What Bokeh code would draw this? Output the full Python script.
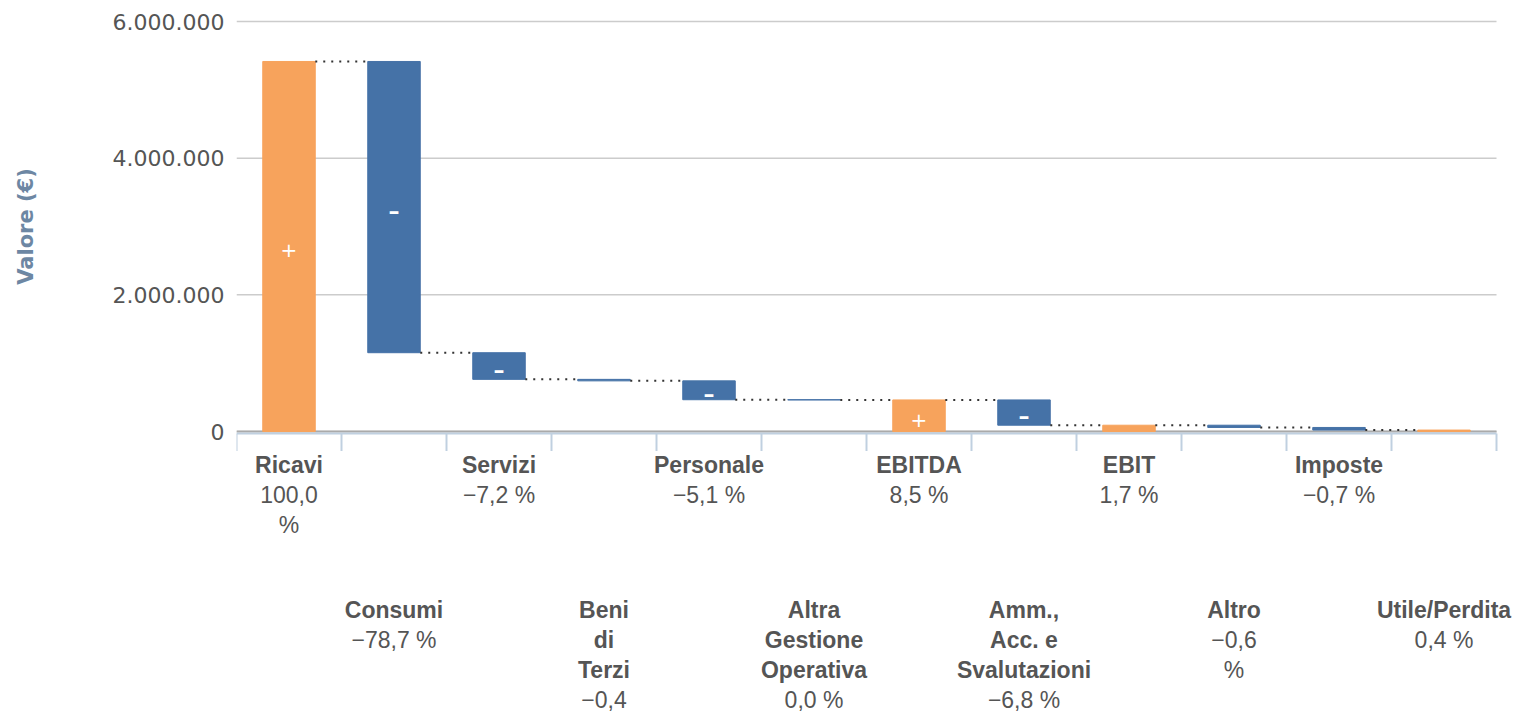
from bokeh.plotting import figure
from bokeh.layouts import column
from bokeh.models import ColumnDataSource, Range1d, FixedTicker
from bokeh.core.properties import value
from bokeh.embed import file_html
from bokeh.resources import INLINE

# ---------------- data ----------------
categories = ["Ricavi", "Consumi", "Servizi", "Beni di Terzi", "Personale",
              "Altra Gestione Operativa", "EBITDA", "Amm., Acc. e Svalutazioni",
              "EBIT", "Altro", "Imposte", "Utile/Perdita"]
# wrapped label lines as shown under the axis
category_lines = [["Ricavi"], ["Consumi"], ["Servizi"], ["Beni", "di", "Terzi"],
                  ["Personale"], ["Altra", "Gestione", "Operativa"], ["EBITDA"],
                  ["Amm.,", "Acc. e", "Svalutazioni"], ["EBIT"], ["Altro"],
                  ["Imposte"], ["Utile/Perdita"]]
percent_lines = [["100,0", "%"], ["\u221278,7 %"], ["\u22127,2 %"], ["\u22120,4"],
                 ["\u22125,1 %"], ["0,0 %"], ["8,5 %"], ["\u22126,8 %"], ["1,7 %"],
                 ["\u22120,6", "%"], ["\u22120,7 %"], ["0,4 %"]]
# deltas (EUR); subtotal bars flagged by is_sum
deltas = [5415000, -4262000, -390000, -22000, -276000, -3000, 0,
          -370000, 0, -33000, -38000, 0]
is_sum = [False, False, False, False, False, False, True,
          False, True, False, False, True]
y_ticks = [0, 2000000, 4000000, 6000000]
y_max = 6000000

ORANGE = "#f7a35c"
BLUE = "#4572a7"
TEXT = "#555555"
AXIS = "#c0d0e0"

# ---------------- waterfall computation ----------------
n = len(categories)
running = 0
bottoms, tops, colors, levels, pos = [], [], [], [], []
for d, s in zip(deltas, is_sum):
    if s:
        b, t = 0, running
        positive = True
    else:
        b = running
        running += d
        t = running
        positive = d > 0
    bottoms.append(min(b, t))
    tops.append(max(b, t))
    colors.append(ORANGE if positive else BLUE)
    pos.append(positive)
    levels.append(running)

xs = [i + 0.5 for i in range(n)]
bars = ColumnDataSource(dict(x=xs, bottom=bottoms, top=tops, color=colors))

# ---------------- layout constants (pixels) ----------------
W = 1522
LEFT = 236
TOP = 1
PLOT_PX = 410          # pixels from 0 to y_max
PAD_PX = 20            # room below zero (axis line, ticks) and same above y_max
H2 = 261
CAT_PX = 105           # pixels per category
k = y_max / PLOT_PX    # data units per pixel
x_end = (W - LEFT) / CAT_PX

xr = Range1d(0, x_end)
p = figure(width=W, height=TOP + PLOT_PX + 2 * PAD_PX, x_range=xr,
           y_range=Range1d(-PAD_PX * k, y_max + PAD_PX * k), x_axis_location=None,
           output_backend="svg", toolbar_location=None,
           min_border_left=LEFT, min_border_right=0, min_border_top=TOP,
           min_border_bottom=0)
p.outline_line_color = None
p.background_fill_color = "white"
p.border_fill_color = "white"
p.grid.visible = False

# horizontal grid lines limited to the category span
p.segment(x0=[0] * len(y_ticks), y0=y_ticks, x1=[n] * len(y_ticks), y1=y_ticks,
          line_color="#cccccc", line_width=1.5)
# zero line, axis line and ticks at category boundaries
p.segment(x0=[0], y0=[0], x1=[n], y1=[0], line_color="#aaaaaa", line_width=2)
p.segment(x0=[0], y0=[-2 * k], x1=[n], y1=[-2 * k], line_color=AXIS, line_width=2)
bounds = list(range(n + 1))
p.segment(x0=bounds, y0=[-2 * k] * len(bounds), x1=bounds,
          y1=[-PAD_PX * k] * len(bounds), line_color=AXIS, line_width=2)

p.vbar(x="x", bottom="bottom", top="top", width=0.5, source=bars,
       fill_color="color", line_color="color", line_width=1)

# connectors
cx0 = [i + 0.75 for i in range(n - 1)]
cx1 = [i + 1.25 for i in range(n - 1)]
cy = levels[:-1]
p.segment(x0=cx0, y0=cy, x1=cx1, y1=cy, line_color="#333333", line_width=2,
          line_dash="2 6")

# signs inside the larger bars
px_, py_, mx_, my_ = [], [], [], []
for i in range(n):
    if tops[i] - bottoms[i] > 250000:
        c = (tops[i] + bottoms[i]) / 2
        if pos[i]:
            px_.append(xs[i]); py_.append(c)
        else:
            mx_.append(xs[i]); my_.append(c)
p.text(x=px_, y=py_, text=["+"] * len(px_), text_color="white",
       text_font=value("DejaVu Sans"), text_font_size="20px",
       text_align="center", text_baseline="middle", y_offset=4)
p.text(x=mx_, y=my_, text=["\u2013"] * len(mx_), text_color="white",
       text_font=value("DejaVu Sans"), text_font_style="bold", text_font_size="22px",
       text_align="center", text_baseline="middle", y_offset=4)

ya = p.yaxis[0]
ya.ticker = FixedTicker(ticks=y_ticks)
ya.axis_line_color = None
ya.major_tick_line_color = None
ya.minor_tick_line_color = None
ya.major_label_overrides = {t: ("{:,}".format(t).replace(",", ".")) for t in y_ticks}
ya.major_label_text_font = "DejaVu Sans"
ya.major_label_text_font_size = "22px"
ya.major_label_text_color = TEXT
ya.major_label_standoff = 6
ya.axis_label = "Valore (\u20ac)"
ya.axis_label_text_font = "DejaVu Sans"
ya.axis_label_text_font_style = "bold"
ya.axis_label_text_font_size = "21px"
ya.axis_label_text_color = "#6d87a3"
ya.axis_label_standoff = 72

# ---------------- category label panel ----------------
q = figure(width=W, height=H2, x_range=xr, y_range=Range1d(H2, 0),
           output_backend="svg", toolbar_location=None,
           min_border_left=LEFT, min_border_right=0, min_border_top=0,
           min_border_bottom=0)
q.axis.visible = False
q.grid.visible = False
q.outline_line_color = None
q.border_fill_color = "white"
q.background_fill_color = "white"

ROW1, ROW2, LINE = 13, 158, 30
bx, by, bt = [], [], []
nx, ny, nt = [], [], []
for i in range(n):
    base = ROW1 if i % 2 == 0 else ROW2
    j = 0
    for line in category_lines[i]:
        bx.append(xs[i]); by.append(base + LINE * j); bt.append(line)
        j += 1
    for line in percent_lines[i]:
        nx.append(xs[i]); ny.append(base + LINE * j); nt.append(line)
        j += 1

lab_font = value("Liberation Sans")
q.text(x=bx, y=by, text=bt, text_font=lab_font, text_font_style="bold",
       text_font_size="23px", text_color=TEXT, text_align="center",
       text_baseline="middle")
q.text(x=nx, y=ny, text=nt, text_font=lab_font,
       text_font_size="23px", text_color=TEXT, text_align="center",
       text_baseline="middle")

layout = column(p, q, spacing=0)
open("out.html", "w").write(file_html(layout, INLINE))
